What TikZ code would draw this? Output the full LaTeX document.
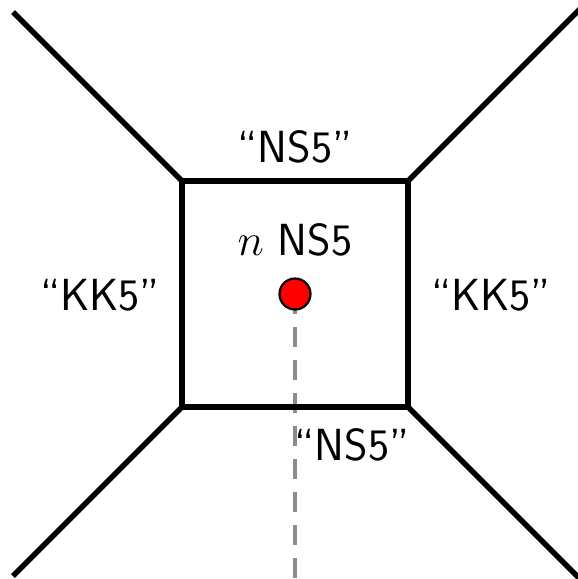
\documentclass[tikz,border=0pt]{standalone}
\usepackage{fix-cm}
\begin{document}
\begin{tikzpicture}[x=1pt,y=-1pt,
  brane/.style={line width=5.5pt,black},
  lbl/.style={font=\fontsize{45}{54}\selectfont\sffamily,inner sep=0pt,anchor=base},
  dashline/.style={line width=4pt,color=gray!90,dash pattern=on 20pt off 13pt}]
\useasboundingbox (0,0) rectangle (578,579);
\coordinate (A) at (182,181);
\coordinate (B) at (408,181);
\coordinate (C) at (408,407);
\coordinate (D) at (182,407);
\coordinate (eA) at (13,12);
\coordinate (eB) at (580,9);
\coordinate (eC) at (580,579);
\coordinate (eD) at (13,576);
\coordinate (dotc) at (295,294);
\coordinate (dend) at (295,579);
\draw[dashline] (dotc) -- (dend);
\draw[brane] (A) -- (B) -- (C) -- (D) -- cycle;
\draw[brane] (A) -- (eA);
\draw[brane] (B) -- (eB);
\draw[brane] (C) -- (eC);
\draw[brane] (D) -- (eD);
\node[circle,fill=red,draw=black,line width=2.2pt,minimum size=31pt,inner sep=0pt] (dot) at (dotc) {};
\node[lbl] (ttop) at (295,162) {``NS5''};
\node[lbl] (tbot) at (352,460) {``NS5''};
\node[lbl] (tn) at (295,255) {$n$ NS5};
\node[lbl] (kl) at (100,310) {``KK5''};
\node[lbl] (kr) at (491,310) {``KK5''};
\end{tikzpicture}
\end{document}
